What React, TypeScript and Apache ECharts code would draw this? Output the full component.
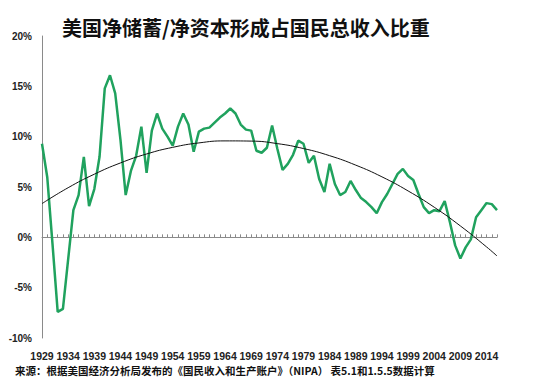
import React, { useEffect, useRef } from "react";
import * as echarts from "echarts";

const years: string[] = [];
for (let y = 1929; y <= 2016; y++) years.push(String(y));

const savingShare: number[] = [
  9.3, 6.0, -0.6, -7.4, -7.1, -2.2, 2.7, 4.2, 8.0, 3.1,
  4.8, 8.0, 14.8, 16.1, 14.3, 9.7, 4.2, 6.6, 8.1, 11.0,
  6.4, 10.6, 12.3, 10.8, 10.0, 9.1, 11.0, 12.3, 11.2, 8.5,
  10.5, 10.8, 10.9, 11.4, 11.9, 12.3, 12.8, 12.3, 11.2, 10.7,
  10.6, 8.6, 8.4, 8.9, 11.1, 8.8, 6.7, 7.3, 8.2, 9.6,
  9.3, 7.4, 8.1, 5.8, 4.5, 7.3, 5.3, 4.2, 4.5, 5.6,
  4.7, 3.9, 3.5, 3.0, 2.4, 3.5, 4.3, 5.3, 6.3, 6.8,
  6.1, 5.7, 4.3, 3.0, 2.4, 2.7, 2.6, 3.6, 1.5, -0.8,
  -2.1, -1.0, -0.2, 2.0, 2.7, 3.4, 3.3, 2.7,
];

// trend curve at 5-year marks (plus the final year)
const trendYears: string[] = [
  "1929", "1934", "1939", "1944", "1949", "1954", "1959", "1964", "1969", "1974",
  "1979", "1984", "1989", "1994", "1999", "2004", "2009", "2014", "2016",
];
const trendValues: number[] = [
  3.35, 4.93, 6.27, 7.39, 8.28, 8.94, 9.38, 9.58, 9.56, 9.31,
  8.82, 8.11, 7.17, 6.01, 4.61, 2.99, 1.13, -0.95, -1.85,
];

const yTicks = { min: -10, max: 20, interval: 5 };

const titleText = "美国净储蓄/净资本形成占国民总收入比重";
const sourceText = "来源：根据美国经济分析局发布的《国民收入和生产账户》（NIPA） 表5.1和1.5.5数据计算";

export default function App() {
  const ref = useRef<HTMLDivElement>(null);
  useEffect(() => {
    if (!ref.current) return;
    const chart = echarts.init(ref.current, undefined, { renderer: "svg" });
    const trendData = years.map((y) => {
      const i = trendYears.indexOf(y);
      return i >= 0 ? trendValues[i] : null;
    });
    chart.setOption({
      animation: false,
      backgroundColor: "#ffffff",
      title: {
        text: titleText,
        left: 57,
        top: 12,
        textStyle: {
          fontFamily: "Noto Sans CJK SC",
          fontSize: 20,
          fontWeight: "bold",
          color: "#111",
        },
      },
      grid: { left: 42, right: 53, top: 36, bottom: 41, containLabel: false },
      xAxis: [
        {
          type: "category",
          data: years,
          boundaryGap: false,
          position: "bottom",
          axisLine: { show: false, onZero: false },
          axisTick: { show: false },
          axisLabel: {
            interval: 4,
            margin: 12,
            fontSize: 10.5,
            fontWeight: "bold",
            color: "#222",
            fontFamily: "Liberation Sans",
          },
          splitLine: { show: false },
        },
        {
          type: "category",
          data: years,
          boundaryGap: false,
          position: "bottom",
          axisLine: { show: true, onZero: true, lineStyle: { color: "#8a8a8a", width: 1 } },
          axisTick: { show: true, inside: true, interval: 0, length: 3, lineStyle: { color: "#8a8a8a" } },
          axisLabel: { show: false },
          splitLine: { show: false },
        },
      ],
      yAxis: {
        type: "value",
        min: yTicks.min,
        max: yTicks.max,
        interval: yTicks.interval,
        axisLine: { show: true, lineStyle: { color: "#8a8a8a" } },
        axisTick: { show: false },
        splitLine: { show: false },
        axisLabel: {
          formatter: "{value}%",
          margin: 10,
          fontSize: 10,
          fontWeight: "bold",
          color: "#222",
          fontFamily: "Liberation Sans",
        },
      },
      series: [
        {
          type: "line",
          xAxisIndex: 0,
          data: savingShare,
          symbol: "none",
          lineStyle: { color: "#20a25e", width: 2.5 },
          z: 3,
        },
        {
          type: "line",
          xAxisIndex: 0,
          data: trendData,
          connectNulls: true,
          smooth: true,
          symbol: "none",
          lineStyle: { color: "#111", width: 1 },
          z: 4,
        },
      ],
      graphic: [
        {
          type: "text",
          left: 15,
          top: 365,
          style: {
            text: sourceText,
            fontFamily: "Noto Sans CJK SC",
            fontSize: 10.5,
            fontWeight: "bold",
            fill: "#111",
          },
        },
      ],
    });
    return () => chart.dispose();
  }, []);
  return (
    <div
      ref={ref}
      style={{ position: "fixed", left: 0, top: 0, width: 550, height: 379 }}
    />
  );
}
